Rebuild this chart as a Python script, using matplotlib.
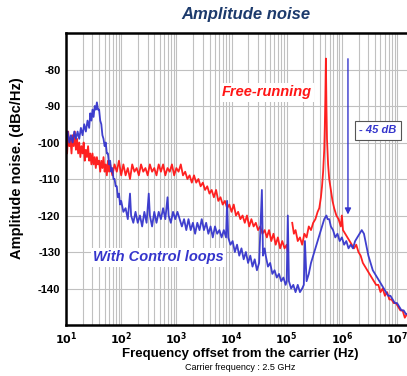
import matplotlib
matplotlib.use("Agg")
import matplotlib.pyplot as plt
import numpy as np
from matplotlib.ticker import FixedLocator, LogLocator, NullFormatter

plt.rcParams['font.family'] = ['Liberation Sans', 'DejaVu Sans']

nan = float('nan')

# ---- data (log10 of frequency offset in Hz, noise in dBc/Hz) ----
red_logf = [1.00, 1.02, 1.04, 1.06, 1.08, 1.10, 1.12, 1.14, 1.16, 1.18, 1.20, 1.22, 1.24, 1.26, 1.28, 1.30,
            1.32, 1.34, 1.36, 1.38, 1.40, 1.42, 1.44, 1.46, 1.48, 1.50, 1.52, 1.54, 1.56, 1.58, 1.60, 1.62,
            1.64, 1.66, 1.68, 1.70, 1.72, 1.74, 1.76, 1.78, 1.80, 1.84, 1.88, 1.92, 1.96, 2.00,
            2.04, 2.08, 2.12, 2.16, 2.20, 2.24, 2.28, 2.32, 2.36, 2.40, 2.44, 2.48, 2.52, 2.56, 2.60, 2.64,
            2.68, 2.72, 2.76, 2.80, 2.84, 2.88, 2.92, 2.96, 3.00, 3.04, 3.08,
            3.12, 3.16, 3.20, 3.24, 3.28, 3.32, 3.36, 3.40, 3.44, 3.48, 3.52, 3.56, 3.60, 3.64, 3.68, 3.72,
            3.76, 3.80, 3.84, 3.88, 3.92, 3.96, 4.00, 4.04, 4.08, 4.12, 4.16, 4.20, 4.24, 4.28, 4.32, 4.36,
            4.40, 4.44, 4.48, 4.52, 4.56, 4.60, 4.64, 4.68, 4.72, 4.76, 4.80, 4.84, 4.88, 4.92, 4.96, 5.00,
            5.02, 5.05, 5.09, 5.10, 5.13, 5.16, 5.20, 5.24, 5.28, 5.32, 5.36, 5.40, 5.44, 5.48, 5.52, 5.56,
            5.59, 5.62, 5.64, 5.66, 5.68, 5.69, 5.70, 5.71, 5.72, 5.73, 5.75, 5.77, 5.80, 5.83, 5.86, 5.90,
            5.94, 5.98, 6.00, 6.02, 6.06, 6.10, 6.14, 6.18, 6.22, 6.26, 6.30, 6.34, 6.38, 6.42, 6.46, 6.50,
            6.54, 6.58, 6.62, 6.66, 6.70, 6.74, 6.78, 6.82, 6.86, 6.90, 6.94, 6.98, 7.02, 7.06, 7.10, 7.14, 7.18]
red_db = [-98, -103, -97, -101, -99, -103, -98, -101, -97, -102, -99, -103, -100, -104, -101, -103,
          -100, -105, -102, -104, -101, -105, -103, -106, -103, -106, -104, -107, -104, -106, -105, -108,
          -105, -107, -104, -108, -106, -109, -105, -108, -106, -109, -106, -108, -105, -109,
          -106, -109, -107, -110, -106, -108, -107, -109, -106, -108, -107, -109, -106, -108, -107, -109,
          -106, -108, -106, -109, -107, -108, -106, -109, -107, -108, -106,
          -109, -108, -110, -109, -111, -109, -111, -110, -112, -111, -113, -112, -114, -113, -115, -113,
          -116, -115, -117, -116, -118, -117, -119, -117, -120, -119, -121, -120, -122, -120, -123, -121,
          -123, -122, -124, -123, -125, -124, -126, -124, -127, -125, -128, -126, -129, -127, -129, -128,
          -130, nan, nan, -122, -125, -124, -127, -126, -128, -125, -126, -123, -124, -122, -121, -119,
          -118, -115, -112, -108, -102, -96, -88, -77, -90, -99, -106, -110, -113, -116, -118, -120,
          -121, -123, -120, -124, -125, -126, -127, -128, -129, -128, -130, -131, -133, -134, -135, -136,
          -137, -138, -139, -139, -141, -140, -142, -141, -143, -143, -144, -144, -145, -146, -146, -148, -147]

blue_logf = [1.00, 1.03, 1.06, 1.09, 1.12, 1.15, 1.18, 1.21, 1.24, 1.27, 1.30, 1.33, 1.36, 1.39, 1.42, 1.44,
             1.46, 1.48, 1.50, 1.52, 1.54, 1.56, 1.58, 1.60, 1.62, 1.64, 1.66, 1.68, 1.70, 1.72, 1.74, 1.76,
             1.78, 1.80, 1.82, 1.84, 1.86, 1.88, 1.90, 1.92, 1.94, 1.96, 1.98, 2.00, 2.04, 2.08, 2.12, 2.16,
             2.18, 2.22, 2.26, 2.30, 2.34, 2.38, 2.42, 2.46, 2.50, 2.52, 2.56, 2.60, 2.64, 2.68, 2.72, 2.76,
             2.80, 2.84, 2.86, 2.90, 2.94, 2.98, 3.02, 3.06, 3.10, 3.14, 3.18, 3.22, 3.26, 3.30, 3.34, 3.38,
             3.42, 3.46, 3.50, 3.54, 3.58, 3.62, 3.66, 3.70, 3.74, 3.78, 3.82, 3.86, 3.90, 3.92, 3.94, 3.98,
             4.02, 4.06, 4.10, 4.14, 4.18, 4.22, 4.26, 4.30, 4.34, 4.38, 4.42, 4.46, 4.50, 4.55, 4.57, 4.60,
             4.62, 4.66, 4.70, 4.74, 4.78, 4.82, 4.86, 4.90, 4.94, 4.98, 5.00, 5.02, 5.04, 5.08, 5.12, 5.16,
             5.20, 5.24, 5.28, 5.31, 5.33, 5.36, 5.40, 5.44, 5.48, 5.52, 5.56, 5.60, 5.64, 5.68, 5.72, 5.74,
             5.77, 5.80, 5.84, 5.88, 5.92, 5.96, 6.00, 6.04, 6.08, 6.12, 6.16, 6.20, 6.24, 6.28, 6.32, 6.36,
             6.40, 6.44, 6.48, 6.52, 6.56, 6.60, 6.64, 6.68, 6.72, 6.76, 6.80, 6.84, 6.88, 6.92, 6.96, 7.00,
             7.04, 7.08, 7.12, 7.16, 7.18]
blue_db = [-99, -97, -100, -98, -100, -97, -99, -97, -99, -96, -98, -95, -97, -94, -96, -92,
           -94, -91, -93, -90, -91, -89, -91, -91, -94, -95, -98, -99, -101, -100, -103, -103,
           -106, -105, -108, -107, -110, -110, -112, -112, -115, -114, -117, -116, -119, -118, -121, -114,
           -120, -122, -119, -122, -120, -123, -119, -122, -114, -120, -123, -119, -122, -119, -121, -118,
           -121, -115, -120, -122, -119, -121, -119, -121, -123, -121, -124, -121, -124, -122, -125, -122,
           -124, -121, -124, -122, -125, -123, -126, -123, -125, -124, -126, -124, -126, -116, -126, -128,
           -127, -130, -128, -131, -129, -132, -130, -133, -131, -134, -132, -135, -133, -113, -131, -129,
           -131, -134, -133, -136, -135, -137, -136, -138, -137, -139, -138, -120, -138, -140, -139, -141,
           -139, -141, -140, -139, -127, -138, -136, -133, -131, -129, -127, -125, -123, -121, -120, -121,
           -121, -123, -124, -126, -125, -127, -126, -128, -127, -129, -128, -129, -127, -126, -125, -124,
           -125, -128, -131, -133, -135, -136, -137, -138, -139, -140, -141, -142, -142, -143, -144, -144,
           -145, -146, -146, -147, -147]

yticks = [-140, -130, -120, -110, -100, -90, -80]
xdecades = [1, 2, 3, 4, 5, 6, 7]

red_f = [10 ** v for v in red_logf]
blue_f = [10 ** v for v in blue_logf]

W, H = 407, 376
fig = plt.figure(figsize=(W / 100, H / 100), dpi=100)
ax = fig.add_axes([66 / W, (H - 325) / H, 1 - 66 / W, (325 - 33) / H])
ax.set_xscale('log')
ax.set_xlim(10, 10 ** 7.18)
ax.set_ylim(-150, -70)

# grid
ax.xaxis.set_minor_locator(LogLocator(base=10, subs=np.arange(2, 10)))
ax.xaxis.set_minor_formatter(NullFormatter())
ax.grid(True, which='minor', axis='x', color='#c0c0c0', lw=0.8)
ax.grid(True, which='major', axis='both', color='#c0c0c0', lw=0.8)
ax.set_axisbelow(True)

ax.plot(red_f, red_db, color='#ff1515', lw=1.3, alpha=0.95)
ax.plot(blue_f, blue_db, color='#3535cc', lw=1.3, alpha=0.95)

ax.set_yticks(yticks)
ax.set_yticklabels([str(v) for v in yticks], fontweight='bold', fontsize=8)
ax.xaxis.set_major_locator(FixedLocator([10 ** d for d in xdecades]))
ax.set_xticklabels([r'$\mathbf{10^{%d}}$' % d for d in xdecades], fontsize=8)
ax.tick_params(axis='both', which='both', length=0, pad=4)

for s in ['left', 'bottom', 'top']:
    ax.spines[s].set_linewidth(1.8)
ax.spines['right'].set_visible(False)

ax.set_ylabel('Amplitude noise. (dBc/Hz)', fontsize=10.5, fontweight='bold')
ax.yaxis.set_label_coords((17 - 66) / 341, (325 - 168) / 292)
ax.yaxis.label.set_va('center')
ax.set_xlabel('Frequency offset from the carrier (Hz)', fontsize=9.5, fontweight='bold')
ax.xaxis.set_label_coords((240 - 66) / 341, -(354 - 325) / 292)
ax.xaxis.label.set_va('center')
fig.text(240 / W, 1 - 368 / H, 'Carrier frequency : 2.5 GHz', fontsize=6.5, ha='center', va='center')
fig.text(246 / W, 1 - 15 / H, 'Amplitude noise', fontsize=12, fontweight='bold', fontstyle='italic',
         color='#1c3a6c', ha='center', va='center')

ax.text(10 ** 4.64, -86.3, 'Free-running', color='#ff1515', fontsize=10.5, fontweight='bold',
        fontstyle='italic', ha='center', va='center',
        bbox=dict(facecolor='white', edgecolor='none', pad=1.5))
ax.text(10 ** 2.67, -131.5, 'With Control loops', color='#3535cc', fontsize=10.5, fontweight='bold',
        fontstyle='italic', ha='center', va='center',
        bbox=dict(facecolor='white', edgecolor='none', pad=1.5))
ax.text(10 ** 6.65, -96.7, '- 45 dB', color='#3535cc', fontsize=8, fontweight='bold',
        fontstyle='italic', ha='center', va='center',
        bbox=dict(facecolor='white', edgecolor='#555555', pad=3, lw=0.8))
ax.annotate('', xy=(10 ** 6.11, -120.5), xytext=(10 ** 6.11, -76.3),
            arrowprops=dict(arrowstyle='-|>', color='#3535cc', lw=1.0, mutation_scale=9))

fig.savefig('out.png', dpi=100)
